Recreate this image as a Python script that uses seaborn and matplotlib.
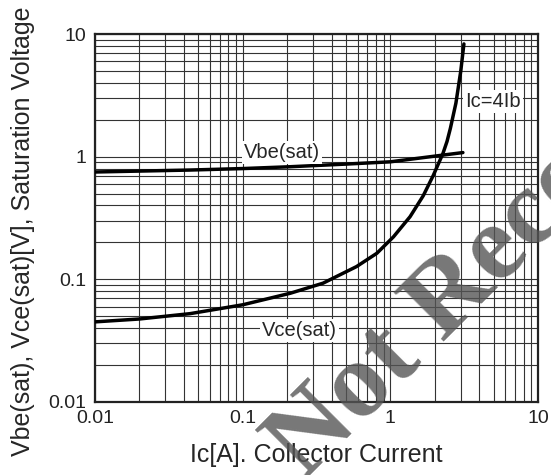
import numpy as np
import pandas as pd
import seaborn as sns
import matplotlib
matplotlib.use("Agg")
import matplotlib.pyplot as plt
import matplotlib.ticker as mticker

# values (Ic = 4 Ib)
ic_vbe = [0.01, 0.044, 0.1, 0.21, 0.5, 1.0, 2.27, 3.1]
vbe = [0.75, 0.778, 0.80, 0.828, 0.87, 0.908, 1.03, 1.08]

ic_vce = [0.01, 0.02, 0.044, 0.1, 0.21, 0.35, 0.59, 0.81, 1.05, 1.36, 1.67, 1.95,
          2.27, 2.42, 2.55, 2.78, 3.0, 3.15]
vce = [0.045, 0.0475, 0.0525, 0.062, 0.077, 0.093, 0.127, 0.163, 0.222, 0.324, 0.48,
       0.70, 1.06, 1.33, 1.7, 2.73, 5.0, 8.3]

decades = [0.01, 0.1, 1, 10]
decade_labels = ["0.01", "0.1", "1", "10"]

sns.set_style("white")
plt.rcParams['font.family'] = ['Liberation Sans', 'DejaVu Sans']

fig = plt.figure(figsize=(5.51, 4.75), dpi=100)
ax = fig.add_axes([0.1724, 0.1537, 0.804, 0.7747])

sns.lineplot(x=ic_vbe, y=vbe, ax=ax, color="black", linewidth=2.5, zorder=3)
sns.lineplot(x=ic_vce, y=vce, ax=ax, color="black", linewidth=2.5, zorder=3)

ax.set_xscale("log")
ax.set_yscale("log")
ax.set_xlim(0.01, 10)
ax.set_ylim(0.01, 10)
for axis in (ax.xaxis, ax.yaxis):
    axis.set_major_locator(mticker.FixedLocator(decades))
    axis.set_major_formatter(mticker.FixedFormatter(decade_labels))
    axis.set_minor_locator(mticker.LogLocator(base=10, subs=np.arange(2, 10)))
    axis.set_minor_formatter(mticker.NullFormatter())
ax.grid(True, which="both", color="#333333", linewidth=0.8)
ax.tick_params(which="both", length=0, labelsize=14, colors="#222222", pad=6)
for s in ax.spines.values():
    s.set_color("#222222")
    s.set_linewidth(1.6)

ax.set_xlabel("Ic[A]. Collector Current", fontsize=18)
ax.set_ylabel("Vbe(sat), Vce(sat)[V], Saturation Voltage", fontsize=18)
ax.xaxis.set_label_coords(0.50, -0.111)
ax.yaxis.set_label_coords(-0.135, 0.465)

box = dict(facecolor="white", edgecolor="none", pad=1.5)
ax.text(0.184, 1.08, "Vbe(sat)", fontsize=14.5, ha="center", va="center", bbox=box, zorder=4)
ax.text(4.95, 2.84, "Ic=4Ib", fontsize=14.5, ha="center", va="center", bbox=box, zorder=4)
ax.text(0.244, 0.038, "Vce(sat)", fontsize=14.5, ha="center", va="center", bbox=box, zorder=4)

# watermark
fig.text(0.552, -0.014, "Not Recommended", fontsize=78, family="Liberation Serif",
         weight="bold", color="#555555", alpha=0.8, rotation=45,
         rotation_mode="anchor", ha="left", va="baseline")

fig.savefig("out.png", dpi=100)
